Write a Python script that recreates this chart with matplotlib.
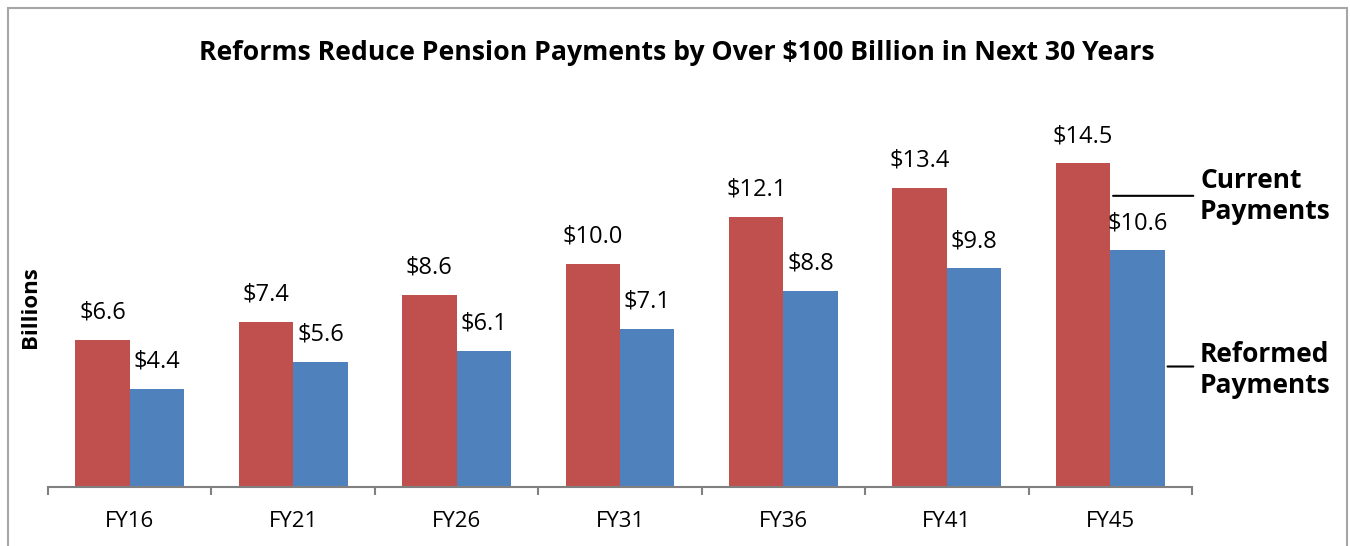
import matplotlib
matplotlib.use("Agg")
import matplotlib.pyplot as plt
from matplotlib.patches import Rectangle
import numpy as np

years = ["FY16", "FY21", "FY26", "FY31", "FY36", "FY41", "FY45"]
current = [6.6, 7.4, 8.6, 10.0, 12.1, 13.4, 14.5]
reformed = [4.4, 5.6, 6.1, 7.1, 8.8, 9.8, 10.6]

red = "#c0504d"
blue = "#4f81bd"

plt.rcParams['font.family'] = ['Open Sans', 'DejaVu Sans']

fig = plt.figure(figsize=(13.5, 5.46), dpi=100)
ax = fig.add_axes([48 / 1350, 1 - 487 / 546, (1192 - 48) / 1350, (487 - 130) / 546])

x = np.arange(len(years))
w = 1 / 3
ax.bar(x - w / 2, current, w, color=red, edgecolor="none")
ax.bar(x + w / 2, reformed, w, color=blue, edgecolor="none")

for i in range(len(years)):
    ax.annotate(f"${current[i]:.1f}", (x[i] - w / 2, current[i]), xytext=(0, 11),
                textcoords="offset points", ha="center", va="bottom", fontsize=17)
    ax.annotate(f"${reformed[i]:.1f}", (x[i] + w / 2, reformed[i]), xytext=(0, 11),
                textcoords="offset points", ha="center", va="bottom", fontsize=17)

ax.set_xlim(-0.5, len(years) - 0.5)
ax.set_ylim(0, 16)
ax.set_xticks(x)
ax.set_xticklabels(years, fontsize=16)
ax.set_xticks(np.arange(len(years) + 1) - 0.5, minor=True)
ax.tick_params(axis="x", which="major", length=0, pad=17)
ax.tick_params(axis="x", which="minor", length=6, color="#808080", width=1.5, direction="out")
ax.set_yticks([])
for s in ["top", "right", "left"]:
    ax.spines[s].set_visible(False)
ax.spines["bottom"].set_color("#808080")
ax.spines["bottom"].set_linewidth(1.5)

# side labels pointing at the last pair of bars
last = len(years) - 1
ax.annotate("", xy=(x[last], 13.05), xytext=(last + 0.525, 13.05),
            arrowprops=dict(arrowstyle="-", color="black", lw=1.5))
ax.annotate("", xy=(x[last] + w, 5.4), xytext=(last + 0.525, 5.4),
            arrowprops=dict(arrowstyle="-", color="black", lw=1.5))
fig.text(1200 / 1350, 1 - 196 / 546, "Current\nPayments", fontsize=19, fontweight="bold",
         va="center", ha="left", linespacing=1.15)
fig.text(1200 / 1350, 1 - 370 / 546, "Reformed\nPayments", fontsize=19, fontweight="bold",
         va="center", ha="left", linespacing=1.15)

fig.text(30 / 1350, 1 - 307 / 546, "Billions", fontsize=16, fontweight="bold",
         rotation=90, va="center", ha="center")
fig.text(677 / 1350, 1 - 53 / 546, "Reforms Reduce Pension Payments by Over $100 Billion in Next 30 Years",
         fontsize=19.2, fontweight="bold", ha="center", va="center")

fig.patches.append(Rectangle((8 / 1350, -0.1), (1347 - 8) / 1350, 1.1 - 8 / 546,
                             transform=fig.transFigure, fill=False,
                             edgecolor="#a6a6a6", linewidth=1.5))

fig.savefig("out.png", dpi=100)
